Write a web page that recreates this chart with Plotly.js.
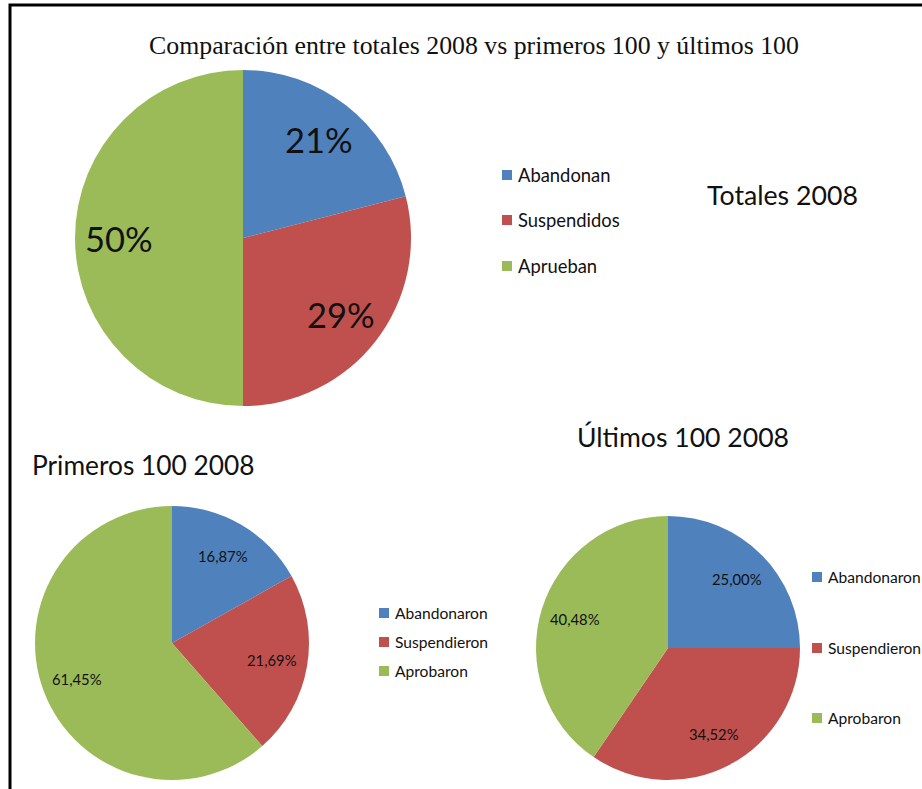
<!DOCTYPE html>
<html><head><meta charset="utf-8">
<script src="https://cdn.plot.ly/plotly-3.0.1.min.js"></script>
<style>body{margin:0;background:#fff}</style></head>
<body><div id="chart" style="width:922px;height:789px"></div>
<script>
// ---- data ----
const colors = ['#4F81BD', '#C0504D', '#9BBB59'];
const totalLabels = ['Abandonan', 'Suspendidos', 'Aprueban'];
const totalValues = [21, 29, 50];
const totalText = ['21%', '29%', '50%'];
const firstLabels = ['Abandonaron', 'Suspendieron', 'Aprobaron'];
const firstValues = [16.87, 21.69, 61.45];
const firstText = ['16,87%', '21,69%', '61,45%'];
const lastLabels = ['Abandonaron', 'Suspendieron', 'Aprobaron'];
const lastValues = [25.00, 34.52, 40.48];
const lastText = ['25,00%', '34,52%', '40,48%'];

const W = 922, H = 789;
const px = x => x / W;
const py = y => 1 - y / H;
const FONT = 'Lato, Calibri, "Liberation Sans", sans-serif';
const LABEL_R = 0.74;

const annotations = [], shapes = [];

function pie(labels, values, text, cx, cy, r, fs) {
  // data labels placed at the slice mid-angle (Excel "best fit" style)
  const total = values.reduce((a, b) => a + b, 0);
  let cum = 0;
  values.forEach((v, i) => {
    const th = (cum + v / 2) / total * 2 * Math.PI;
    cum += v;
    annotations.push({xref: 'paper', yref: 'paper',
      x: px(cx + LABEL_R * r * Math.sin(th)), y: py(cy - LABEL_R * r * Math.cos(th)),
      xanchor: 'center', yanchor: 'middle', showarrow: false, text: text[i],
      font: {family: FONT, size: fs, color: '#111'}});
  });
  return {
    type: 'pie', labels: labels, values: values, text: text,
    textinfo: 'none',
    sort: false, direction: 'clockwise', rotation: 0,
    marker: {colors: colors, line: {width: 0}},
    hoverinfo: 'label+percent', showlegend: false,
    domain: {x: [px(cx - r), px(cx + r)], y: [py(cy + r), py(cy - r)]}
  };
}

const data = [
  pie(totalLabels, totalValues, totalText, 243, 238, 168, 34.5),
  pie(firstLabels, firstValues, firstText, 172, 643, 137, 14.8),
  pie(lastLabels, lastValues, lastText, 668, 648, 132, 14.8)
];

function legend(labels, sx, ys, sq, fs) {
  labels.forEach((lab, i) => {
    shapes.push({type: 'rect', xref: 'paper', yref: 'paper',
      x0: px(sx), x1: px(sx + sq), y0: py(ys[i] + sq / 2), y1: py(ys[i] - sq / 2),
      fillcolor: colors[i], line: {width: 0}});
    annotations.push({xref: 'paper', yref: 'paper', x: px(sx + sq + 4), y: py(ys[i]),
      xanchor: 'left', yanchor: 'middle', showarrow: false, text: lab,
      font: {family: FONT, size: fs, color: '#111'}});
  });
}
legend(totalLabels, 502, [175, 220, 266], 10, 18.4);
legend(firstLabels, 379, [613, 642, 671], 10, 15.6);
legend(lastLabels, 812, [577, 648, 718], 10, 15.6);

function label(text, x, y, fs) {
  annotations.push({xref: 'paper', yref: 'paper', x: px(x), y: py(y), xanchor: 'center', yanchor: 'middle',
    showarrow: false, text: text, font: {family: FONT, size: fs, color: '#111'}});
}
label('Totales 2008', 782, 195, 26.7);
label('Primeros 100 2008', 143, 465, 26.3);
label('Últimos 100 2008', 683, 437, 26.6);

shapes.push({type: 'rect', xref: 'paper', yref: 'paper', x0: px(10), x1: px(930), y0: py(800), y1: py(5),
  line: {color: '#000', width: 3}, fillcolor: 'rgba(0,0,0,0)'});

const layout = {
  width: W, height: H, margin: {l: 0, r: 0, t: 0, b: 0},
  paper_bgcolor: '#fff', plot_bgcolor: '#fff',
  title: {text: 'Comparación entre totales 2008 vs primeros 100 y últimos 100',
    font: {family: '"Liberation Serif", "Times New Roman", serif', size: 25.8, color: '#111'},
    x: px(474), xanchor: 'center', y: py(45), yanchor: 'middle'},
  showlegend: false,
  annotations: annotations, shapes: shapes
};
Plotly.newPlot('chart', data, layout, {displayModeBar: false, staticPlot: true});
</script></body></html>
